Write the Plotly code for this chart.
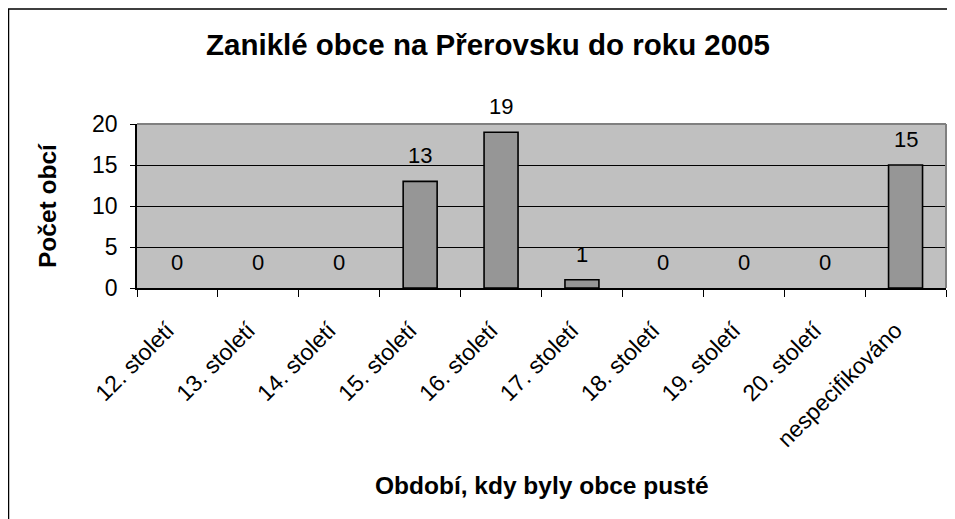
import plotly.graph_objects as go

categories = ["12. století", "13. století", "14. století", "15. století", "16. století",
              "17. století", "18. století", "19. století", "20. století", "nespecifikováno"]
values = [0, 0, 0, 13, 19, 1, 0, 0, 0, 15]
y_ticks = [0, 5, 10, 15, 20]

FONT = "Liberation Sans, Arial, sans-serif"

# page body has an 8px margin, so the figure is drawn 8px right/down
OFF = 8
W, H = 955 - OFF, 519 - OFF
PL, PR, PT, PB = 137 - OFF, 946 - OFF, 124 - OFF, 288 - OFF
PW, PH = PR - PL, PB - PT

fig = go.Figure()
fig.add_trace(go.Bar(
    x=categories, y=values,
    marker=dict(color="#969696",
                line=dict(color="#000000", width=[1.6 if v > 0 else 0 for v in values])),
    width=0.42, hoverinfo="skip",
))

annotations = []
for c, v in zip(categories, values):
    annotations.append(dict(x=c, y=v, xref="x", yref="y", text=str(v), showarrow=False,
                            yanchor="bottom", yshift=11,
                            font=dict(family=FONT, size=22, color="#000")))

annotations.append(dict(text="<b>Období, kdy byly obce pusté</b>", xref="paper", yref="paper",
                        x=0.5, y=(PB - (485 - OFF)) / PH, xanchor="center", yanchor="middle",
                        showarrow=False, font=dict(family=FONT, size=24.5, color="#000")))
annotations.append(dict(text="<b>Počet obcí</b>", xref="paper", yref="paper",
                        x=((47 - OFF) - PL) / PW, y=0.5, xanchor="center", yanchor="middle",
                        textangle=-90, showarrow=False,
                        font=dict(family=FONT, size=24.5, color="#000")))

fig.update_layout(
    width=W, height=H,
    margin=dict(l=PL, r=W - PR, t=PT, b=H - PB),
    paper_bgcolor="white", plot_bgcolor="#c0c0c0",
    showlegend=False,
    title=dict(text="<b>Zaniklé obce na Přerovsku do roku 2005</b>",
               x=(488 - OFF) / W, xref="container", xanchor="center",
               y=1 - (45 - OFF) / H, yref="container", yanchor="middle",
               font=dict(family=FONT, size=29.5, color="#000")),
    annotations=annotations,
    xaxis=dict(type="category", tickson="boundaries", ticks="outside", ticklen=7,
               tickcolor="#000", tickwidth=1, showline=True, linecolor="#000", linewidth=1.5,
               tickangle=-45, showgrid=False, automargin=False,
               ticklabelstandoff=18, ticklabelshift=-10,
               tickfont=dict(family=FONT, size=23, color="#000")),
    yaxis=dict(range=[0, 20], tickvals=y_ticks, ticks="outside", ticklen=5,
               tickcolor="#000", showline=True, linecolor="#000", linewidth=1.5,
               showgrid=True, gridcolor="#000", gridwidth=1,
               zeroline=False, automargin=False, ticklabelstandoff=8,
               tickfont=dict(family=FONT, size=23, color="#000")),
    shapes=[
        dict(type="line", xref="paper", yref="paper", x0=0, x1=1, y0=1, y1=1,
             line=dict(color="#808080", width=2), layer="above"),
        dict(type="line", xref="paper", yref="paper", x0=1, x1=1, y0=0, y1=1,
             line=dict(color="#808080", width=2), layer="above"),
        dict(type="rect", xref="paper", yref="paper",
             x0=(0.5 - PL) / PW, x1=1.2, y0=-3, y1=(PB - 1) / PH,
             line=dict(color="#000", width=1.5), layer="below"),
    ],
)

fig.write_html("out.html")
